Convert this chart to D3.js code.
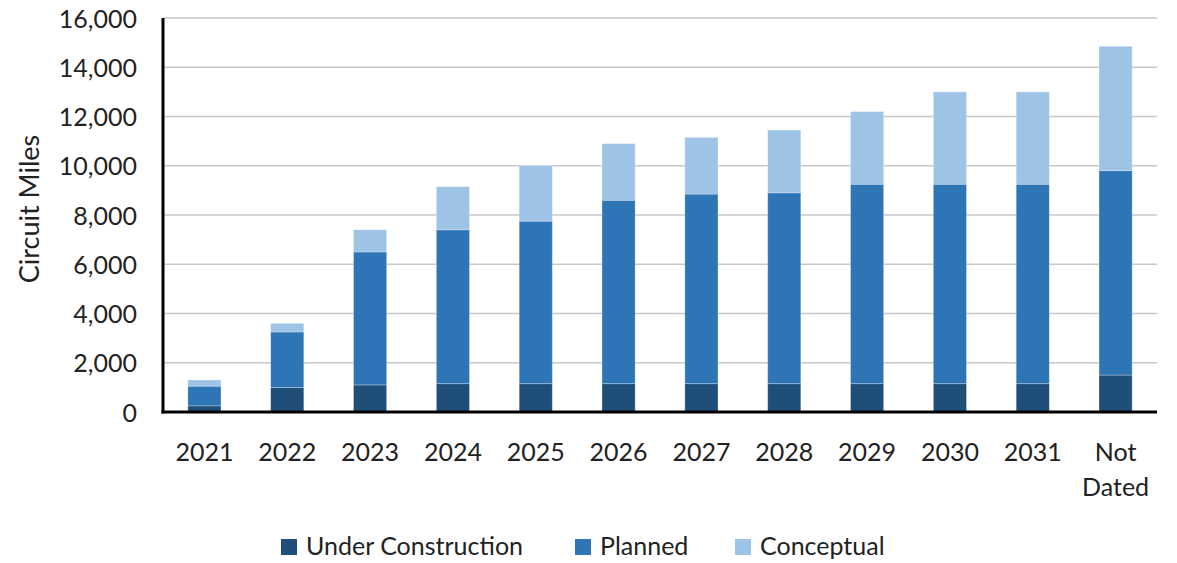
<!DOCTYPE html>
<html>
<head>
<meta charset="utf-8">
<script src="https://cdn.jsdelivr.net/npm/d3@7"></script>
<style>
  body { margin: 0; background: #fff; }
  #graf { width: 1177px; height: 563px; }
  text { font-family: Lato, "Open Sans", sans-serif; fill: #222; }
</style>
</head>
<body>
<div id="graf"></div>
<script>
// Datos
const years = ["2021", "2022", "2023", "2024", "2025", "2026", "2027", "2028", "2029", "2030", "2031", "Not Dated"]
const underConstruction = [250, 1000, 1100, 1150, 1150, 1150, 1150, 1150, 1150, 1150, 1150, 1500]
const planned = [800, 2250, 5400, 6250, 6600, 7450, 7700, 7750, 8100, 8100, 8100, 8300]
const conceptual = [250, 350, 900, 1750, 2250, 2300, 2300, 2550, 2950, 3750, 3750, 5050]
const series = ["Under Construction", "Planned", "Conceptual"]
const yTicks = [0, 2000, 4000, 6000, 8000, 10000, 12000, 14000, 16000]

const draw = () => {
  const graf = d3.select("#graf")
  const anchoTotal = 1177
  const altoTotal = 563
  const margins = { top: 18, right: 20, bottom: 151, left: 163 }
  const ancho = anchoTotal - margins.left - margins.right
  const alto = altoTotal - margins.top - margins.bottom

  const colores = d3.scaleOrdinal().domain(series).range(["#1f4e79", "#2e75b6", "#9dc3e6"])

  const dataset = years.map((y, i) => ({
    year: y,
    "Under Construction": underConstruction[i],
    Planned: planned[i],
    Conceptual: conceptual[i],
  }))
  const stacked = d3.stack().keys(series)(dataset)

  const x = d3.scaleBand().domain(years).range([0, ancho]).paddingInner(0.6).paddingOuter(0.3)
  const y = d3.scaleLinear().domain([0, 16000]).range([alto, 0])

  const svg = graf.append("svg").attr("width", anchoTotal).attr("height", altoTotal)
  const chart = svg.append("g").attr("transform", `translate(${margins.left}, ${margins.top})`)

  // Grid
  chart
    .append("g")
    .selectAll("line")
    .data(yTicks.filter((d) => d > 0))
    .join("line")
    .attr("x1", 0)
    .attr("x2", ancho)
    .attr("y1", (d) => y(d))
    .attr("y2", (d) => y(d))
    .attr("stroke", "#c8c8c8")
    .attr("stroke-width", 1.5)

  // Barras
  chart
    .append("g")
    .selectAll("g")
    .data(stacked)
    .join("g")
    .attr("fill", (d) => colores(d.key))
    .selectAll("rect")
    .data((d) => d)
    .join("rect")
    .attr("x", (d) => x(d.data.year))
    .attr("y", (d) => y(d[1]))
    .attr("width", x.bandwidth())
    .attr("height", (d) => y(d[0]) - y(d[1]))
    .attr("stroke", "#ffffff")
    .attr("stroke-opacity", 0.35)
    .attr("stroke-width", 0.8)

  // Ejes
  const yAxis = d3.axisLeft(y).tickValues(yTicks).tickSize(0).tickPadding(26).tickFormat(d3.format(","))
  const yAxisGroup = chart.append("g").call(yAxis)
  yAxisGroup.select(".domain").remove()
  yAxisGroup.selectAll("text").style("font-size", "25px").attr("dy", "0.36em")

  chart
    .append("line")
    .attr("x1", 0)
    .attr("x2", 0)
    .attr("y1", 0)
    .attr("y2", alto + 1.5)
    .attr("stroke", "#000")
    .attr("stroke-width", 3)
  chart
    .append("line")
    .attr("x1", -1.5)
    .attr("x2", ancho)
    .attr("y1", alto)
    .attr("y2", alto)
    .attr("stroke", "#000")
    .attr("stroke-width", 3)

  const xLabels = chart
    .append("g")
    .selectAll("text")
    .data(years)
    .join("text")
    .attr("x", (d) => x(d) + x.bandwidth() / 2)
    .attr("y", alto + 49)
    .attr("text-anchor", "middle")
    .style("font-size", "25px")
  xLabels.each(function (d) {
    const words = d.split(" ")
    const t = d3.select(this)
    words.forEach((w, i) => {
      t.append("tspan")
        .attr("x", x(d) + x.bandwidth() / 2)
        .attr("dy", i === 0 ? 0 : 35)
        .text(w)
    })
  })

  svg
    .append("text")
    .attr("transform", `translate(39, 209) rotate(-90)`)
    .attr("text-anchor", "middle")
    .style("font-size", "27px")
    .text("Circuit Miles")

  // Leyenda
  const legendX = [281, 575, 735]
  const legend = svg
    .append("g")
    .selectAll("g")
    .data(series)
    .join("g")
    .attr("transform", (d, i) => `translate(${legendX[i]}, 546)`)
  legend
    .append("rect")
    .attr("x", 0)
    .attr("y", -7)
    .attr("width", 16)
    .attr("height", 16)
    .attr("fill", (d) => colores(d))
  legend
    .append("text")
    .attr("x", 25)
    .attr("y", 0)
    .attr("dy", "0.36em")
    .style("font-size", "25px")
    .text((d) => d)
}

draw()
</script>
</body>
</html>
